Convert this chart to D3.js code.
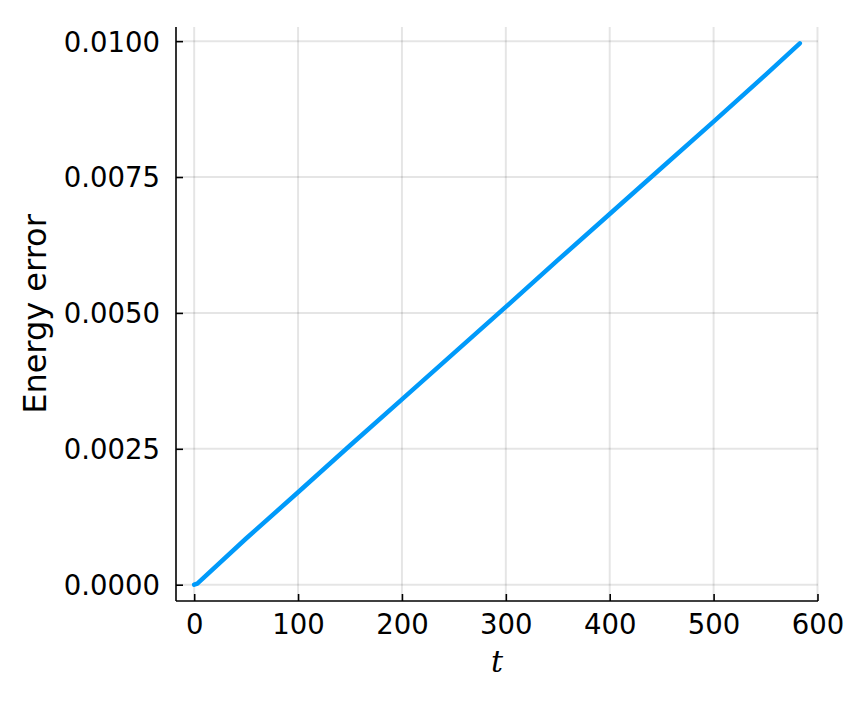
<!DOCTYPE html>
<html lang="en">
<head>
    <meta charset="UTF-8">
    <title>Energy error</title>
</head>
<body style="margin:0;background:#fff">
<style>
    text { font-family: "DejaVu Sans", sans-serif; fill: #000; }
    .grid line { stroke: #000; stroke-opacity: 0.1; stroke-width: 2; }
</style>
<svg width="846" height="705"></svg>
<script src="https://cdn.jsdelivr.net/npm/d3@7/dist/d3.min.js"></script>
<script>

    var tValues = [0, 3, 50, 100, 150, 200, 250, 300, 350, 400, 450, 500, 550, 583];
    var energyError = [0, 0.00002, 0.00085, 0.00170, 0.00256, 0.00341, 0.00426,
                       0.00511, 0.00597, 0.00682, 0.00767, 0.00852, 0.00938, 0.00996];
    var xTicks = [0, 100, 200, 300, 400, 500, 600];
    var yTicks = [0, 0.0025, 0.005, 0.0075, 0.01];

    var data = tValues.map(function(t, i) { return {t: t, e: energyError[i]}; });

    var svg = d3.select("svg"),
        margin = {top: 27, right: 28, bottom: 104, left: 176},
        width = +svg.attr("width") - margin.left - margin.right,
        height = +svg.attr("height") - margin.top - margin.bottom;

    var xScale = d3.scaleLinear().domain([-17.5, 600.5]).range([0, width]),
        yScale = d3.scaleLinear().domain([-0.0003, 0.01026]).range([height, 0]);

    var g = svg.append("g")
        .attr("transform", "translate(" + margin.left + "," + margin.top + ")");

    // grid
    g.append("g").attr("class", "grid")
        .selectAll("line").data(xTicks).enter().append("line")
        .attr("x1", function(d) { return xScale(d); })
        .attr("x2", function(d) { return xScale(d); })
        .attr("y1", 0).attr("y2", height);
    g.append("g").attr("class", "grid")
        .selectAll("line").data(yTicks).enter().append("line")
        .attr("y1", function(d) { return yScale(d); })
        .attr("y2", function(d) { return yScale(d); })
        .attr("x1", 0).attr("x2", width);

    // axes
    var xAxis = g.append("g")
        .attr("transform", "translate(0," + height + ")")
        .call(d3.axisBottom(xScale).tickValues(xTicks).tickSizeInner(-7).tickSizeOuter(0).tickPadding(13));
    var yAxis = g.append("g")
        .call(d3.axisLeft(yScale).tickValues(yTicks).tickFormat(d3.format(".4f")).tickSizeInner(-7).tickSizeOuter(0).tickPadding(16));

    [xAxis, yAxis].forEach(function(a) {
        a.select(".domain").attr("stroke", "#000").attr("stroke-width", 1.6);
        a.selectAll(".tick line").attr("stroke", "#000").attr("stroke-width", 1.6);
        a.selectAll(".tick text").style("font-size", "27.5px").attr("font-family", null);
    });
    xAxis.select(".domain").attr("d", "M0,0H" + width);
    yAxis.select(".domain").attr("d", "M0," + height + "V0");
    yAxis.selectAll(".tick text").attr("dy", "0.36em");

    // line
    var line = d3.line()
        .x(function(d) { return xScale(d.t); })
        .y(function(d) { return yScale(d.e); });

    g.append("path")
        .datum(data)
        .attr("fill", "none")
        .attr("stroke", "#009afa")
        .attr("stroke-width", 4.5)
        .attr("stroke-linejoin", "round")
        .attr("stroke-linecap", "round")
        .attr("d", line);

    // labels
    svg.append("text")
        .attr("transform", "translate(46," + (margin.top + height / 2) + ") rotate(-90)")
        .attr("text-anchor", "middle")
        .style("font-size", "32px")
        .text("Energy error");

    svg.append("text")
        .attr("x", margin.left + width / 2)
        .attr("y", 672)
        .attr("text-anchor", "middle")
        .style("font-family", "'DejaVu Serif', serif")
        .style("font-style", "italic")
        .style("font-size", "30px")
        .text("t");
</script>
</body>
</html>
